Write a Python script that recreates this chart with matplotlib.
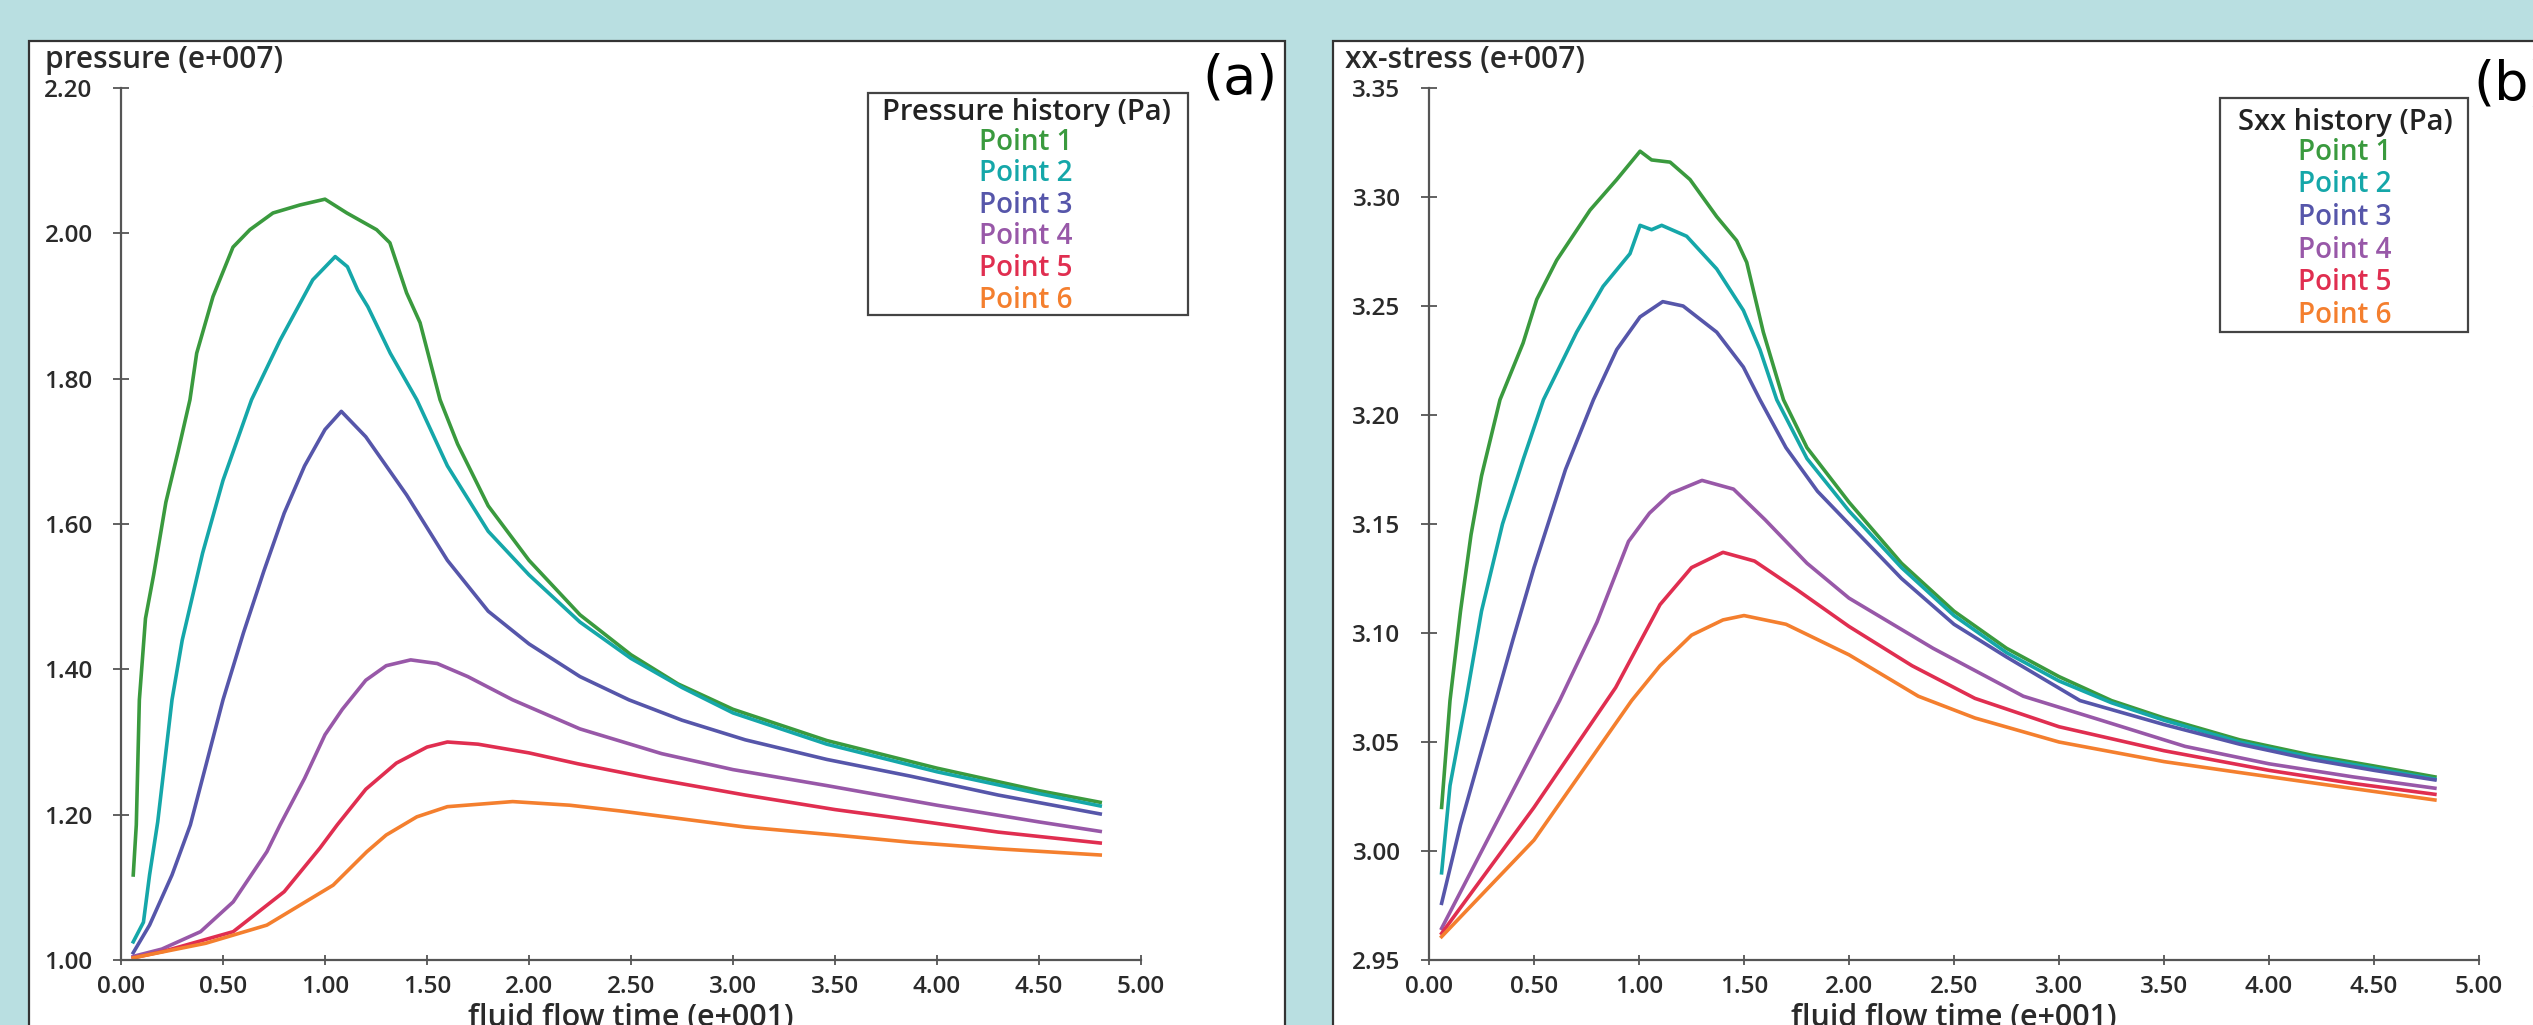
import matplotlib
matplotlib.use("Agg")
import matplotlib.pyplot as plt
from matplotlib.patches import Rectangle

plt.rcParams['font.family'] = ['Open Sans', 'DejaVu Sans']

# ---- data: pressure history (e+007 Pa) vs time (e+001) ----
pres_t1 = [0.06, 0.075, 0.09, 0.12, 0.16, 0.22, 0.28, 0.338, 0.371, 0.451, 0.549, 0.632, 0.745, 0.877, 1.00, 1.107,
           1.253, 1.318, 1.40, 1.466, 1.564, 1.65, 1.80, 2.00, 2.25, 2.50, 2.73, 3.00, 3.46, 4.00, 4.50, 4.80]
pres_v1 = [1.117, 1.186, 1.358, 1.47, 1.53, 1.63, 1.70, 1.771, 1.835, 1.913, 1.981, 2.005, 2.028, 2.039, 2.047, 2.028,
           2.005, 1.987, 1.918, 1.877, 1.771, 1.71, 1.625, 1.55, 1.475, 1.42, 1.38, 1.345, 1.302, 1.264, 1.233, 1.217]

pres_t2 = [0.06, 0.11, 0.14, 0.18, 0.25, 0.30, 0.40, 0.50, 0.64, 0.78, 0.94, 1.05, 1.11, 1.16, 1.21, 1.32,
           1.45, 1.60, 1.80, 2.00, 2.25, 2.50, 2.75, 3.00, 3.46, 4.00, 4.50, 4.80]
pres_v2 = [1.025, 1.052, 1.117, 1.19, 1.358, 1.44, 1.56, 1.66, 1.771, 1.853, 1.936, 1.968, 1.954, 1.922, 1.899, 1.835,
           1.771, 1.68, 1.59, 1.53, 1.465, 1.415, 1.375, 1.34, 1.297, 1.259, 1.229, 1.212]

pres_t3 = [0.06, 0.14, 0.25, 0.34, 0.50, 0.60, 0.70, 0.80, 0.90, 1.00, 1.08, 1.20, 1.30, 1.40, 1.50, 1.60,
           1.80, 2.00, 2.25, 2.49, 2.75, 3.06, 3.46, 3.87, 4.30, 4.80]
pres_v3 = [1.01, 1.048, 1.117, 1.186, 1.358, 1.45, 1.535, 1.615, 1.68, 1.73, 1.755, 1.72, 1.68, 1.64, 1.595, 1.55,
           1.48, 1.435, 1.39, 1.358, 1.33, 1.303, 1.276, 1.253, 1.227, 1.201]

pres_t4 = [0.06, 0.20, 0.39, 0.55, 0.715, 0.78, 0.90, 1.00, 1.085, 1.20, 1.30, 1.42, 1.55, 1.70, 1.92, 2.25,
           2.65, 3.00, 3.46, 4.00, 4.50, 4.80]
pres_v4 = [1.005, 1.015, 1.039, 1.08, 1.149, 1.186, 1.25, 1.31, 1.345, 1.385, 1.405, 1.413, 1.408, 1.39, 1.358, 1.318,
           1.284, 1.262, 1.240, 1.213, 1.19, 1.177]

pres_t5 = [0.06, 0.21, 0.55, 0.80, 0.975, 1.06, 1.20, 1.35, 1.50, 1.60, 1.75, 2.00, 2.24, 2.60, 3.06, 3.50,
           3.87, 4.30, 4.80]
pres_v5 = [1.003, 1.012, 1.039, 1.094, 1.154, 1.186, 1.235, 1.271, 1.293, 1.300, 1.297, 1.285, 1.27, 1.25, 1.227, 1.207,
           1.193, 1.176, 1.161]

pres_t6 = [0.06, 0.415, 0.715, 1.04, 1.205, 1.30, 1.45, 1.60, 1.92, 2.20, 2.45, 3.06, 3.50, 3.87, 4.30, 4.80]
pres_v6 = [1.003, 1.023, 1.048, 1.103, 1.149, 1.172, 1.197, 1.211, 1.218, 1.213, 1.205, 1.183, 1.172, 1.162, 1.153, 1.1445]

# ---- data: Sxx history (e+007 Pa) vs time (e+001) ----
sxx_t1 = [0.06, 0.10, 0.15, 0.20, 0.25, 0.338, 0.448, 0.513, 0.608, 0.767, 0.894, 1.005, 1.06, 1.148, 1.243, 1.37,
          1.465, 1.513, 1.592, 1.688, 1.80, 2.00, 2.25, 2.50, 2.75, 3.00, 3.25, 3.50, 3.86, 4.20, 4.50, 4.79]
sxx_v1 = [3.020, 3.069, 3.11, 3.145, 3.172, 3.207, 3.233, 3.253, 3.271, 3.294, 3.308, 3.321, 3.317, 3.316, 3.308, 3.291,
          3.280, 3.270, 3.238, 3.207, 3.185, 3.16, 3.132, 3.11, 3.093, 3.08, 3.069, 3.061, 3.051, 3.044, 3.039, 3.034]

sxx_t2 = [0.06, 0.10, 0.176, 0.25, 0.35, 0.45, 0.545, 0.703, 0.829, 0.957, 1.005, 1.06, 1.108, 1.227, 1.37, 1.497,
          1.576, 1.656, 1.80, 2.00, 2.25, 2.50, 2.75, 3.00, 3.25, 3.50, 3.86, 4.20, 4.50, 4.79]
sxx_v2 = [2.990, 3.03, 3.069, 3.11, 3.15, 3.18, 3.207, 3.238, 3.259, 3.274, 3.287, 3.285, 3.287, 3.282, 3.267, 3.248,
          3.230, 3.207, 3.18, 3.156, 3.13, 3.108, 3.091, 3.078, 3.068, 3.06, 3.05, 3.043, 3.038, 3.033]

sxx_t3 = [0.06, 0.15, 0.25, 0.318, 0.40, 0.50, 0.65, 0.783, 0.894, 1.005, 1.113, 1.21, 1.37, 1.497, 1.576, 1.70,
          1.85, 2.00, 2.25, 2.50, 2.75, 3.10, 3.50, 3.86, 4.20, 4.50, 4.79]
sxx_v3 = [2.976, 3.012, 3.046, 3.069, 3.097, 3.13, 3.175, 3.207, 3.230, 3.245, 3.252, 3.250, 3.238, 3.222, 3.207, 3.185,
          3.165, 3.15, 3.125, 3.104, 3.089, 3.069, 3.058, 3.049, 3.042, 3.037, 3.0326]

sxx_t4 = [0.06, 0.622, 0.80, 0.95, 1.05, 1.15, 1.30, 1.45, 1.60, 1.80, 2.00, 2.40, 2.83, 3.20, 3.60, 4.00, 4.40, 4.79]
sxx_v4 = [2.9645, 3.069, 3.105, 3.142, 3.155, 3.164, 3.170, 3.166, 3.152, 3.132, 3.116, 3.093, 3.071, 3.06, 3.048, 3.04,
          3.034, 3.0288]

sxx_t5 = [0.06, 0.50, 0.889, 1.00, 1.10, 1.25, 1.40, 1.55, 1.75, 2.00, 2.30, 2.60, 3.00, 3.50, 4.00, 4.40, 4.79]
sxx_v5 = [2.9622, 3.02, 3.075, 3.095, 3.113, 3.13, 3.137, 3.133, 3.12, 3.103, 3.085, 3.07, 3.057, 3.046, 3.037, 3.031, 3.026]

sxx_t6 = [0.06, 0.50, 0.965, 1.10, 1.25, 1.40, 1.50, 1.70, 2.00, 2.33, 2.60, 3.00, 3.50, 3.86, 4.30, 4.79]
sxx_v6 = [2.9607, 3.005, 3.069, 3.085, 3.099, 3.106, 3.108, 3.104, 3.09, 3.071, 3.061, 3.05, 3.041, 3.036, 3.03, 3.0234]

point_names = ["Point 1", "Point 2", "Point 3", "Point 4", "Point 5", "Point 6"]
point_colors = ["#3a9a3e", "#15a7a9", "#5656aa", "#9858a8", "#e02e50", "#f47f2e"]

x_ticks = [0.0, 0.5, 1.0, 1.5, 2.0, 2.5, 3.0, 3.5, 4.0, 4.5, 5.0]
pres_ticks = [1.0, 1.2, 1.4, 1.6, 1.8, 2.0, 2.2]
sxx_ticks = [2.95, 3.00, 3.05, 3.10, 3.15, 3.20, 3.25, 3.30, 3.35]

W, H = 2533, 1025
fig = plt.figure(figsize=(W / 100, H / 100), dpi=100)
fig.patch.set_facecolor("#b9dfe1")


def fx(px):
    return px / W


def fy(py):
    return 1 - py / H


# white panels with dark frames
fig.add_artist(Rectangle((fx(29), -0.1), fx(1285 - 29), fy(41) + 0.1, transform=fig.transFigure,
                         facecolor="white", edgecolor="#333333", lw=1.6, zorder=-5))
fig.add_artist(Rectangle((fx(1333), -0.1), 0.6, fy(41) + 0.1, transform=fig.transFigure,
                         facecolor="white", edgecolor="#333333", lw=1.6, zorder=-5))

ax_a = fig.add_axes([fx(121), fy(960), fx(1141 - 121), (960 - 88) / H])
ax_b = fig.add_axes([fx(1429), fy(960), fx(2479 - 1429), (960 - 88) / H])

pres_series = [(pres_t1, pres_v1), (pres_t2, pres_v2), (pres_t3, pres_v3),
               (pres_t4, pres_v4), (pres_t5, pres_v5), (pres_t6, pres_v6)]
sxx_series = [(sxx_t1, sxx_v1), (sxx_t2, sxx_v2), (sxx_t3, sxx_v3),
              (sxx_t4, sxx_v4), (sxx_t5, sxx_v5), (sxx_t6, sxx_v6)]

for ax, series, yticks in [(ax_a, pres_series, pres_ticks), (ax_b, sxx_series, sxx_ticks)]:
    ax.set_facecolor("none")
    for (t, v), c in zip(series, point_colors):
        ax.plot(t, v, color=c, lw=2.6, solid_joinstyle="round")
    ax.set_xlim(0, 5)
    ax.set_ylim(yticks[0], yticks[-1])
    ax.set_xticks(x_ticks)
    ax.set_xticklabels([f"{x:.2f}" for x in x_ticks], fontweight="semibold")
    ax.set_yticks(yticks)
    ax.set_yticklabels([f"{y:.2f}" for y in yticks], fontweight="semibold")
    for s in ["top", "right"]:
        ax.spines[s].set_visible(False)
    for s in ["left", "bottom"]:
        ax.spines[s].set_color("#555555")
        ax.spines[s].set_linewidth(1.6)
    ax.tick_params(axis="y", direction="inout", length=11, width=1.3, color="#555555",
                   pad=15, labelsize=17.5, labelcolor="#2a2a2a")
    ax.tick_params(axis="x", direction="inout", length=7, width=1.3, color="#555555",
                   pad=7, labelsize=17.5, labelcolor="#2a2a2a")
    ax.set_xlabel("fluid flow time (e+001)", fontsize=22, fontweight="semibold", color="#2a2a2a", labelpad=3)

# axis titles at top-left of each panel
fig.text(fx(45), fy(68), "pressure (e+007)", fontsize=21.5, fontweight="semibold", color="#2a2a2a",
         ha="left", va="baseline")
fig.text(fx(1345), fy(68), "xx-stress (e+007)", fontsize=21.5, fontweight="semibold", color="#2a2a2a",
         ha="left", va="baseline")

# panel letters
fig.text(fx(1240), fy(78), "(a)", fontsize=39, family="DejaVu Sans", color="black", ha="center", va="center")
fig.text(fx(2473), fy(84), "(b)", fontsize=39, family="DejaVu Sans", color="black", ha="left", va="center")


# legend boxes: title plus coloured entries, centred
def legend_box(x0, y0, x1, y1, cx, title, title_base, first_base, step):
    fig.add_artist(Rectangle((fx(x0), fy(y1)), fx(x1 - x0), (y1 - y0) / H, transform=fig.transFigure,
                             facecolor="white", edgecolor="#444444", lw=1.6))
    fig.text(fx(cx), fy(title_base), title, fontsize=21, weight="semibold", color="#222222",
             ha="center", va="baseline")
    for i, (name, c) in enumerate(zip(point_names, point_colors)):
        fig.text(fx(cx), fy(first_base + i * step), name, fontsize=20, weight="semibold", color=c,
                 ha="center", va="baseline")


legend_box(868, 93, 1188, 315, 1026, "Pressure history (Pa)", 120, 150, 31.5)
legend_box(2220, 98, 2468, 332, 2345, "Sxx history (Pa)", 130, 160, 32.5)

fig.savefig("out.png", dpi=100, facecolor=fig.get_facecolor())
